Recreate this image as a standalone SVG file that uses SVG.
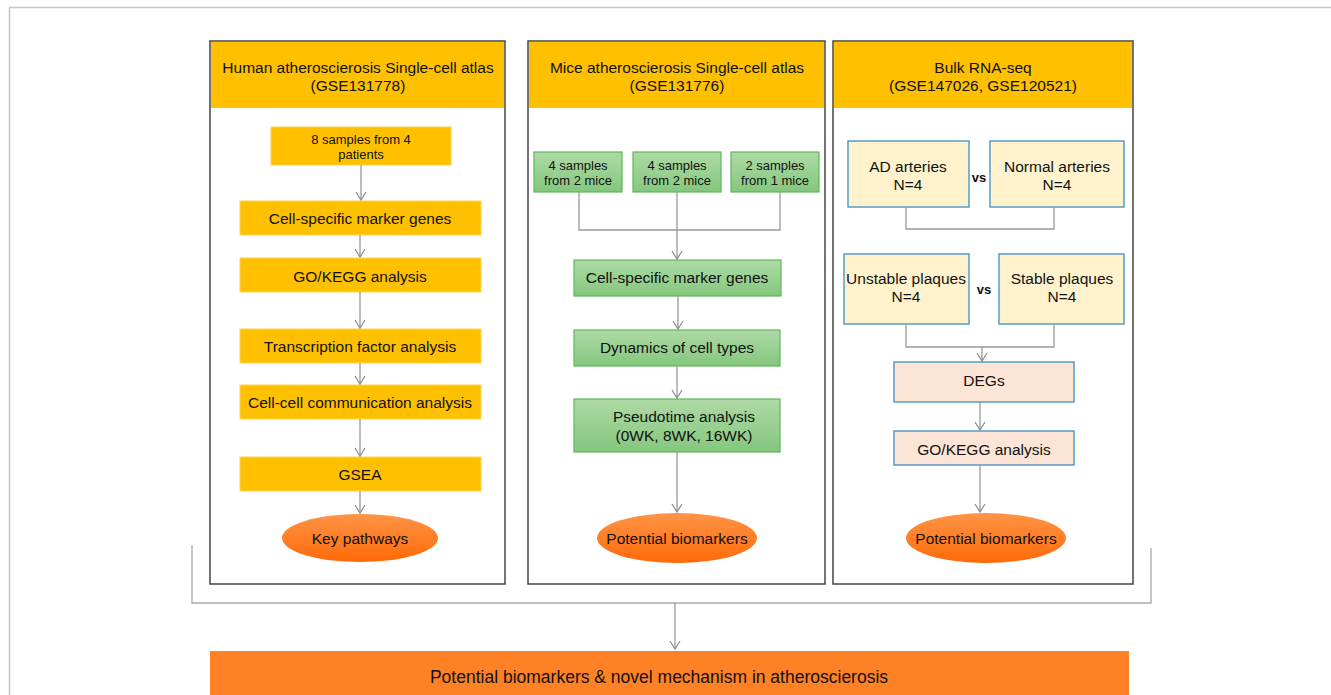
<svg xmlns="http://www.w3.org/2000/svg" width="1331" height="695" viewBox="0 0 1331 695">
<defs>
<marker id="arr" markerWidth="12" markerHeight="12" refX="10" refY="6" orient="auto" markerUnits="userSpaceOnUse" viewBox="0 0 12 12">
<path d="M2,1 L10,6 L2,11" fill="none" stroke="#8c8c8c" stroke-width="1.2"/>
</marker>
<linearGradient id="grn" x1="0" y1="0" x2="0" y2="1">
<stop offset="0" stop-color="#aedaa6"/><stop offset="1" stop-color="#84c77d"/>
</linearGradient>
<linearGradient id="org" x1="0" y1="0" x2="0" y2="1">
<stop offset="0" stop-color="#ff9446"/><stop offset="1" stop-color="#ff6a08"/>
</linearGradient>
<style>
text{font-family:"Liberation Sans",Arial,sans-serif;fill:#111;text-anchor:middle;dominant-baseline:central}
.panel{fill:#fff;stroke:#444;stroke-width:1.5}
.hdr{fill:#ffc000}
.ybox{fill:#ffc000;stroke:#ffd24d;stroke-width:1}
.gbox{fill:url(#grn);stroke:#5db856;stroke-width:1.2}
.bbox{fill:#fff2cc;stroke:#3a8fc4;stroke-width:1.3}
.pbox{fill:#fce4d6;stroke:#3a8fc4;stroke-width:1.3}
.ell{fill:url(#org)}
.t15{font-size:15.5px}
.t13{font-size:13px}
.vs{font-size:13px;font-weight:bold}
.ln{fill:none;stroke:#999;stroke-width:1.3}
.ar{fill:none;stroke:#999;stroke-width:1.3;marker-end:url(#arr)}
.frame{fill:none;stroke:#c8c8c8;stroke-width:1.5}
.brk{fill:none;stroke:#aaa;stroke-width:1.3}
</style>
</defs>

<path class="frame" d="M9.5,695 V7.5 H1331"/>

<g id="panel1">
<rect class="panel" x="210" y="41" width="295" height="543"/>
<rect class="hdr" x="211" y="42" width="293" height="66"/>
<text class="t15" x="358" y="67">Human atheroscierosis Single-cell atlas</text>
<text class="t15" x="358" y="85">(GSE131778)</text>
</g>
<g id="h_samples">
<rect class="ybox" x="271" y="127" width="180" height="38"/>
<text class="t13" x="361" y="139">8 samples from 4</text>
<text class="t13" x="361" y="154">patients</text>
</g>
<g id="h_marker">
<rect class="ybox" x="240" y="201" width="241" height="34"/>
<text class="t15" x="360" y="218">Cell-specific marker genes</text>
</g>
<g id="h_gokegg">
<rect class="ybox" x="240" y="258" width="241" height="34"/>
<text class="t15" x="360" y="276">GO/KEGG analysis</text>
</g>
<g id="h_tf">
<rect class="ybox" x="240" y="329" width="241" height="34"/>
<text class="t15" x="360" y="346">Transcription factor analysis</text>
</g>
<g id="h_ccc">
<rect class="ybox" x="240" y="385" width="241" height="34"/>
<text class="t15" x="360" y="402">Cell-cell communication analysis</text>
</g>
<g id="h_gsea">
<rect class="ybox" x="240" y="457" width="241" height="34"/>
<text class="t15" x="360" y="474">GSEA</text>
</g>
<g id="h_key">
<ellipse class="ell" cx="360" cy="538" rx="78" ry="24"/>
<text class="t15" x="360" y="538">Key pathways</text>
</g>

<g id="panel2">
<rect class="panel" x="528" y="41" width="297" height="543"/>
<rect class="hdr" x="529" y="42" width="295" height="66"/>
<text class="t15" x="677" y="67">Mice atheroscierosis Single-cell atlas</text>
<text class="t15" x="677" y="85">(GSE131776)</text>
</g>
<g id="m_s1">
<rect class="gbox" x="534" y="152" width="88" height="40"/>
<text class="t13" x="578" y="165">4 samples</text>
<text class="t13" x="578" y="180">from 2 mice</text>
</g>
<g id="m_s2">
<rect class="gbox" x="633" y="152" width="88" height="40"/>
<text class="t13" x="677" y="165">4 samples</text>
<text class="t13" x="677" y="180">from 2 mice</text>
</g>
<g id="m_s3">
<rect class="gbox" x="731" y="152" width="88" height="40"/>
<text class="t13" x="775" y="165">2 samples</text>
<text class="t13" x="775" y="180">from 1 mice</text>
</g>
<g id="m_marker">
<rect class="gbox" x="574" y="260" width="207" height="36"/>
<text class="t15" x="677" y="277">Cell-specific marker genes</text>
</g>
<g id="m_dyn">
<rect class="gbox" x="574" y="330" width="206" height="36"/>
<text class="t15" x="677" y="347">Dynamics of cell types</text>
</g>
<g id="m_pseudo">
<rect class="gbox" x="574" y="399" width="206" height="53"/>
<text class="t15" x="684" y="416">Pseudotime analysis</text>
<text class="t15" x="684" y="435">(0WK, 8WK, 16WK)</text>
</g>
<g id="m_bio">
<ellipse class="ell" cx="677" cy="538" rx="80" ry="25"/>
<text class="t15" x="677" y="538">Potential biomarkers</text>
</g>

<g id="panel3">
<rect class="panel" x="833" y="41" width="300" height="543"/>
<rect class="hdr" x="834" y="42" width="298" height="66"/>
<text class="t15" x="983" y="67">Bulk RNA-seq</text>
<text class="t15" x="983" y="85">(GSE147026, GSE120521)</text>
</g>
<g id="b_ad">
<rect class="bbox" x="848" y="141" width="121" height="66"/>
<text class="t15" x="908" y="166">AD arteries</text>
<text class="t15" x="908" y="184">N=4</text>
</g>
<g id="b_vs1"><text class="vs" x="979" y="177">vs</text></g>
<g id="b_normal">
<rect class="bbox" x="990" y="141" width="134" height="66"/>
<text class="t15" x="1057" y="166">Normal arteries</text>
<text class="t15" x="1057" y="184">N=4</text>
</g>
<g id="b_unstable">
<rect class="bbox" x="844" y="254" width="125" height="70"/>
<text class="t15" x="906" y="278">Unstable plaques</text>
<text class="t15" x="906" y="296">N=4</text>
</g>
<g id="b_vs2"><text class="vs" x="984" y="289">vs</text></g>
<g id="b_stable">
<rect class="bbox" x="999" y="254" width="125" height="70"/>
<text class="t15" x="1062" y="278">Stable plaques</text>
<text class="t15" x="1062" y="296">N=4</text>
</g>
<g id="b_degs">
<rect class="pbox" x="894" y="362" width="180" height="40"/>
<text class="t15" x="984" y="380">DEGs</text>
</g>
<g id="b_gokegg">
<rect class="pbox" x="894" y="431" width="180" height="34"/>
<text class="t15" x="984" y="449">GO/KEGG analysis</text>
</g>
<g id="b_bio">
<ellipse class="ell" cx="986" cy="538" rx="80" ry="25"/>
<text class="t15" x="986" y="538">Potential biomarkers</text>
</g>

<g id="final">
<rect x="210" y="651" width="919" height="50" fill="#ff8126"/>
<text x="659" y="677" style="font-size:17.5px">Potential biomarkers &amp; novel mechanism in atheroscierosis</text>
</g>

<g id="connectors">
<path class="ar" d="M361,165 V200"/>
<path class="ar" d="M360,235 V257"/>
<path class="ar" d="M360,292 V328"/>
<path class="ar" d="M360,363 V384"/>
<path class="ar" d="M360,419 V456"/>
<path class="ar" d="M360,491 V513"/>

<path class="ln" d="M579,192 V230 H780 V192"/>
<path class="ar" d="M677,192 V259"/>
<path class="ar" d="M678,296 V329"/>
<path class="ar" d="M677,366 V398"/>
<path class="ar" d="M677,452 V512"/>

<path class="ln" d="M906,207 V229 H1054 V207"/>
<path class="ln" d="M906,324 V347 H1054 V324"/>
<path class="ar" d="M982,347 V361"/>
<path class="ar" d="M980,402 V430"/>
<path class="ar" d="M980,465 V512"/>

<path class="brk" d="M192,545 V603 H1151 V548"/>
<path class="ar" d="M675,603 V649"/>
</g>
</svg>
